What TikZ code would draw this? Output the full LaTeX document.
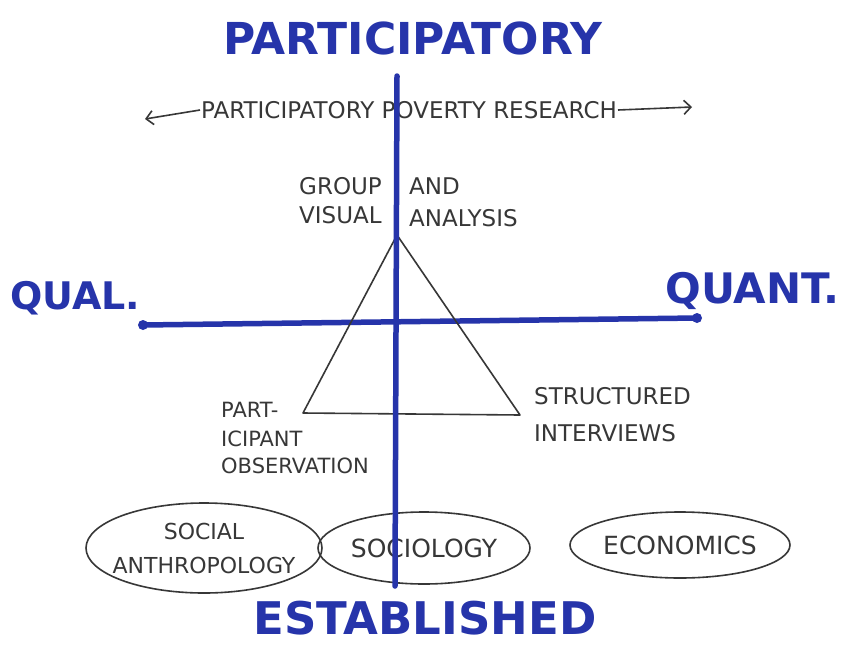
\documentclass[tikz,border=0pt]{standalone}
\usepackage{fontspec}
\setmainfont{DejaVu Sans}
\usetikzlibrary{arrows.meta,shapes.geometric}
\definecolor{inkblue}{RGB}{38,52,170}
\definecolor{pencil}{RGB}{55,55,55}
\tikzset{
  axis/.style={draw=inkblue,line width=5.5pt,line cap=round},
  bigword/.style={text=inkblue,font=\fontsize{44}{46}\selectfont\bfseries,inner sep=0pt},
  sideword/.style={text=inkblue,font=\fontsize{38}{40}\selectfont\bfseries,inner sep=0pt},
  note/.style={text=pencil,font=\fontsize{23}{28}\selectfont,inner sep=1pt,align=left},
  pen/.style={draw=pencil,line width=1.6pt},
  fieldtext/.style={text=pencil,font=\fontsize{25}{34}\selectfont,align=center,inner sep=1pt},
  ring/.style={draw=pencil,line width=1.6pt}
}
\begin{document}
\begin{tikzpicture}[x=1pt,y=-1pt]
\useasboundingbox[fill=white] (0,0) rectangle (843,648);
% titles
\node[bigword] (part) at (413,38) {PARTICIPATORY};
\node[bigword,font=\fontsize{45}{47}\selectfont\bfseries] (estab) at (425,618) {ESTABLISHED};
\node[sideword,anchor=west] (qual) at (10,298) {QUAL.};
\node[sideword,anchor=east,font=\fontsize{42}{44}\selectfont\bfseries] (quant) at (840,291) {QUANT.};
% axes
\coordinate (vtop) at (397,76);
\coordinate (vbot) at (395,586);
\coordinate (hleft) at (143,325);
\coordinate (hright) at (697,318);
\draw[axis] (hleft) -- (hright);
\fill[inkblue] (hleft) circle (5pt);
\fill[inkblue] (hright) circle (5pt);
% participatory poverty research arrow
\node[note,anchor=west] (ppr) at (200,110) {PARTICIPATORY POVERTY RESEARCH};
\coordinate (pl) at (145,119);
\coordinate (pr) at (692,107);
\draw[pen,-{Straight Barb[length=7pt,width=14pt]}] (ppr.west) -- (pl);
\draw[pen,-{Straight Barb[length=7pt,width=14pt]}] (ppr.east) -- (pr);
% triangle
\coordinate (apex) at (397,235);
\coordinate (tl) at (303,413);
\coordinate (tr) at (520,415);
\draw[pen,line join=round] (apex) -- (tl) -- (tr) -- cycle;
% labels
\node[note,anchor=west] (g1) at (298,186) {GROUP};
\node[note,anchor=west] (g2) at (298,215) {VISUAL};
\node[note,anchor=west] (a1) at (408,186) {AND};
\node[note,anchor=west] (a2) at (408,218) {ANALYSIS};
\node[note,anchor=west,font=\fontsize{21}{28}\selectfont] (po1) at (220,410) {PART-};
\node[note,anchor=west,font=\fontsize{21}{28}\selectfont] (po2) at (220,439) {ICIPANT};
\node[note,anchor=west,font=\fontsize{21}{28}\selectfont] (po3) at (220,466) {OBSERVATION};
\node[note,anchor=west] (si1) at (533,396) {STRUCTURED};
\node[note,anchor=west] (si2) at (533,433) {INTERVIEWS};
% disciplines
\node[fieldtext,font=\fontsize{22}{34}\selectfont] (sa) at (204,548) {SOCIAL\\ANTHROPOLOGY};
\node[fieldtext] (soc) at (424,548) {SOCIOLOGY};
\node[fieldtext] (eco) at (680,545) {ECONOMICS};
\draw[ring] (sa) ellipse [x radius=118pt, y radius=45pt];
\draw[ring] (soc) ellipse [x radius=106pt, y radius=36pt];
\draw[ring] (eco) ellipse [x radius=110pt, y radius=33pt];
\draw[axis] (vtop) -- (vbot);
\end{tikzpicture}
\end{document}
